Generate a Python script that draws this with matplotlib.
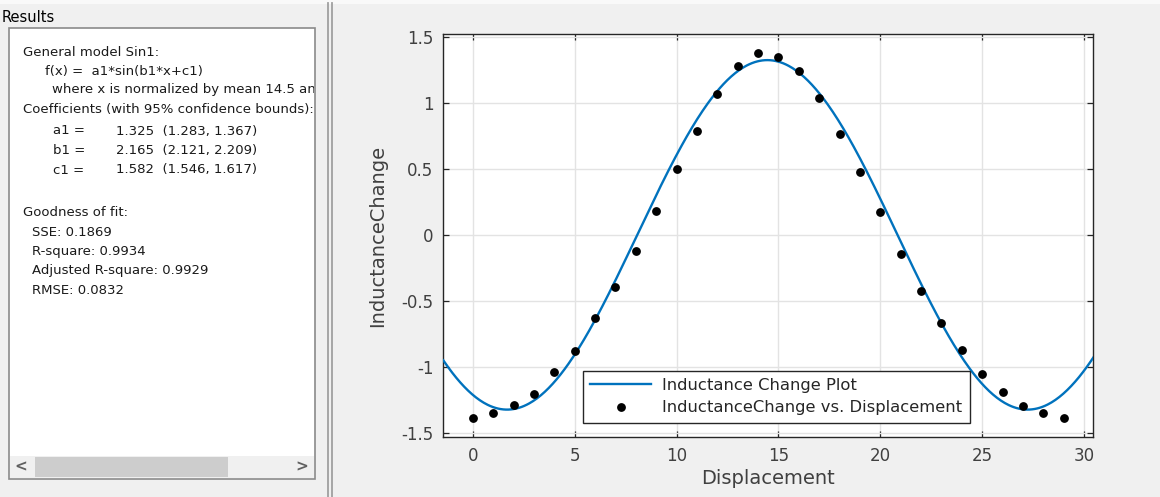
import numpy as np
import matplotlib
matplotlib.use("Agg")
import matplotlib.pyplot as plt
from matplotlib.patches import Rectangle
from matplotlib.ticker import FuncFormatter

# ---------------- data ----------------
displacement = [0, 1, 2, 3, 4, 5, 6, 7, 8, 9, 10, 11, 12, 13, 14,
                15, 16, 17, 18, 19, 20, 21, 22, 23, 24, 25, 26, 27, 28, 29]
inductance_change = [-1.388, -1.347, -1.290, -1.207, -1.038, -0.880, -0.633, -0.395,
                     -0.126, 0.181, 0.500, 0.789, 1.066, 1.280, 1.382, 1.345, 1.239,
                     1.038, 0.762, 0.473, 0.171, -0.148, -0.427, -0.669, -0.872,
                     -1.053, -1.194, -1.294, -1.350, -1.390]

# fitted Sin1 model coefficients (x normalized by mean and std)
a1, b1, c1 = 1.325, 2.165, 1.582
x_mean, x_std = 14.5, 8.803

x_ticks = [0, 5, 10, 15, 20, 25, 30]
y_ticks = [-1.5, -1, -0.5, 0, 0.5, 1, 1.5]

results_lines = [
    ("General model Sin1:", 23),
    ("f(x) =  a1*sin(b1*x+c1)", 45),
    ("where x is normalized by mean 14.5 and std 8.803", 52),
    ("Coefficients (with 95% confidence bounds):", 23),
]
coef_names = ["a1 =", "b1 =", "c1 ="]
coef_values = ["1.325  (1.283, 1.367)", "2.165  (2.121, 2.209)", "1.582  (1.546, 1.617)"]
gof_lines = ["Goodness of fit:", "SSE: 0.1869", "R-square: 0.9934",
             "Adjusted R-square: 0.9929", "RMSE: 0.0832"]

W, H = 1160, 497
fig = plt.figure(figsize=(W / 100, H / 100), dpi=100)
fig.patch.set_facecolor("#f0f0f0")

# ---------------- background / results panel (pixel coords) ----------------
bg = fig.add_axes([0, 0, 1, 1])
bg.set_xlim(0, W)
bg.set_ylim(H, 0)
bg.axis("off")
bg.add_patch(Rectangle((0, 0), W, 4, facecolor="#f9f9f9", edgecolor="none"))
# splitter lines
for xs in (328, 331.5):
    bg.plot([xs, xs], [3, H], color="#a0a0a0", lw=1.3)

bg.text(2, 17, "Results", fontsize=10.5, va="center", ha="left", color="black")
box = Rectangle((9, 28), 306, 451, facecolor="white", edgecolor="#8a8a8a", lw=1.2)
bg.add_patch(box)
clip_rect = Rectangle((10, 29), 304, 449, transform=bg.transData, facecolor="none",
                      edgecolor="none")

fs_left = 9.5
ys = [52, 71, 90, 110]
for (txt, xx), yy in zip(results_lines, ys):
    t = bg.text(xx, yy, txt, fontsize=fs_left, va="center", ha="left",
                color="#1a1a1a", clip_on=True)
    t.set_clip_path(clip_rect)
for i, (nm, val) in enumerate(zip(coef_names, coef_values)):
    yy = 131 + i * 19.5
    bg.text(53, yy, nm, fontsize=fs_left, va="center", ha="left", color="#1a1a1a")
    bg.text(116, yy, val, fontsize=fs_left, va="center", ha="left", color="#1a1a1a")
for i, txt in enumerate(gof_lines):
    yy = 213 + i * 19.3
    bg.text(23 if i == 0 else 32, yy, txt, fontsize=fs_left, va="center",
            ha="left", color="#1a1a1a")

# scrollbar
bg.add_patch(Rectangle((10, 456), 304, 22, facecolor="#f0f0f0", edgecolor="none"))
bg.add_patch(Rectangle((35, 457), 193, 20, facecolor="#cdcdcd", edgecolor="none"))
bg.text(21, 467, "<", fontsize=11, fontweight="bold", color="#606060",
        ha="center", va="center")
bg.text(302, 467, ">", fontsize=11, fontweight="bold", color="#606060",
        ha="center", va="center")

# ---------------- main plot ----------------
left, right, top, bottom = 443.3, 1093.3, 34, 437.3
ax = fig.add_axes([left / W, 1 - bottom / H, (right - left) / W, (bottom - top) / H])
ax.set_facecolor("white")

x_fit = np.linspace(-1.45, 30.45, 500)
y_fit = a1 * np.sin(b1 * (x_fit - x_mean) / x_std + c1)
ax.plot(x_fit, y_fit, color="#0072BD", lw=1.7, label="Inductance Change Plot", zorder=3)
ax.plot(displacement, inductance_change, linestyle="none", marker="o", color="black",
        markersize=5.3, label="InductanceChange vs. Displacement", zorder=4)

ax.set_xlim(-1.45, 30.45)
ax.set_ylim(-1.535, 1.523)
ax.set_xticks(x_ticks)
ax.set_yticks(y_ticks)
ax.yaxis.set_major_formatter(FuncFormatter(lambda v, p: ("%g" % v)))
ax.grid(True, color="#e3e3e3", lw=1.0, zorder=0)
ax.set_axisbelow(True)
ax.tick_params(direction="in", length=4.5, width=0.9, top=True, right=True,
               labelsize=12, colors="#262626", labelcolor="#404040", pad=7)
for s in ax.spines.values():
    s.set_color("#262626")
    s.set_linewidth(1.0)
ax.set_xlabel("Displacement", fontsize=14, color="#404040", labelpad=3)
ax.set_ylabel("InductanceChange", fontsize=14, color="#404040", labelpad=10)

leg = ax.legend(loc="upper left", bbox_to_anchor=((583 - left) / (right - left),
                                                  (bottom - 370.7) / (bottom - top)),
                borderaxespad=0, fontsize=11.8, frameon=True, fancybox=False,
                framealpha=1, edgecolor="#262626", handlelength=3.7,
                labelspacing=0.45, borderpad=0.45, handletextpad=0.7)
leg.get_frame().set_linewidth(1.0)
for t in leg.get_texts():
    t.set_color("#262626")

fig.savefig("out.png", dpi=100, facecolor=fig.get_facecolor())
